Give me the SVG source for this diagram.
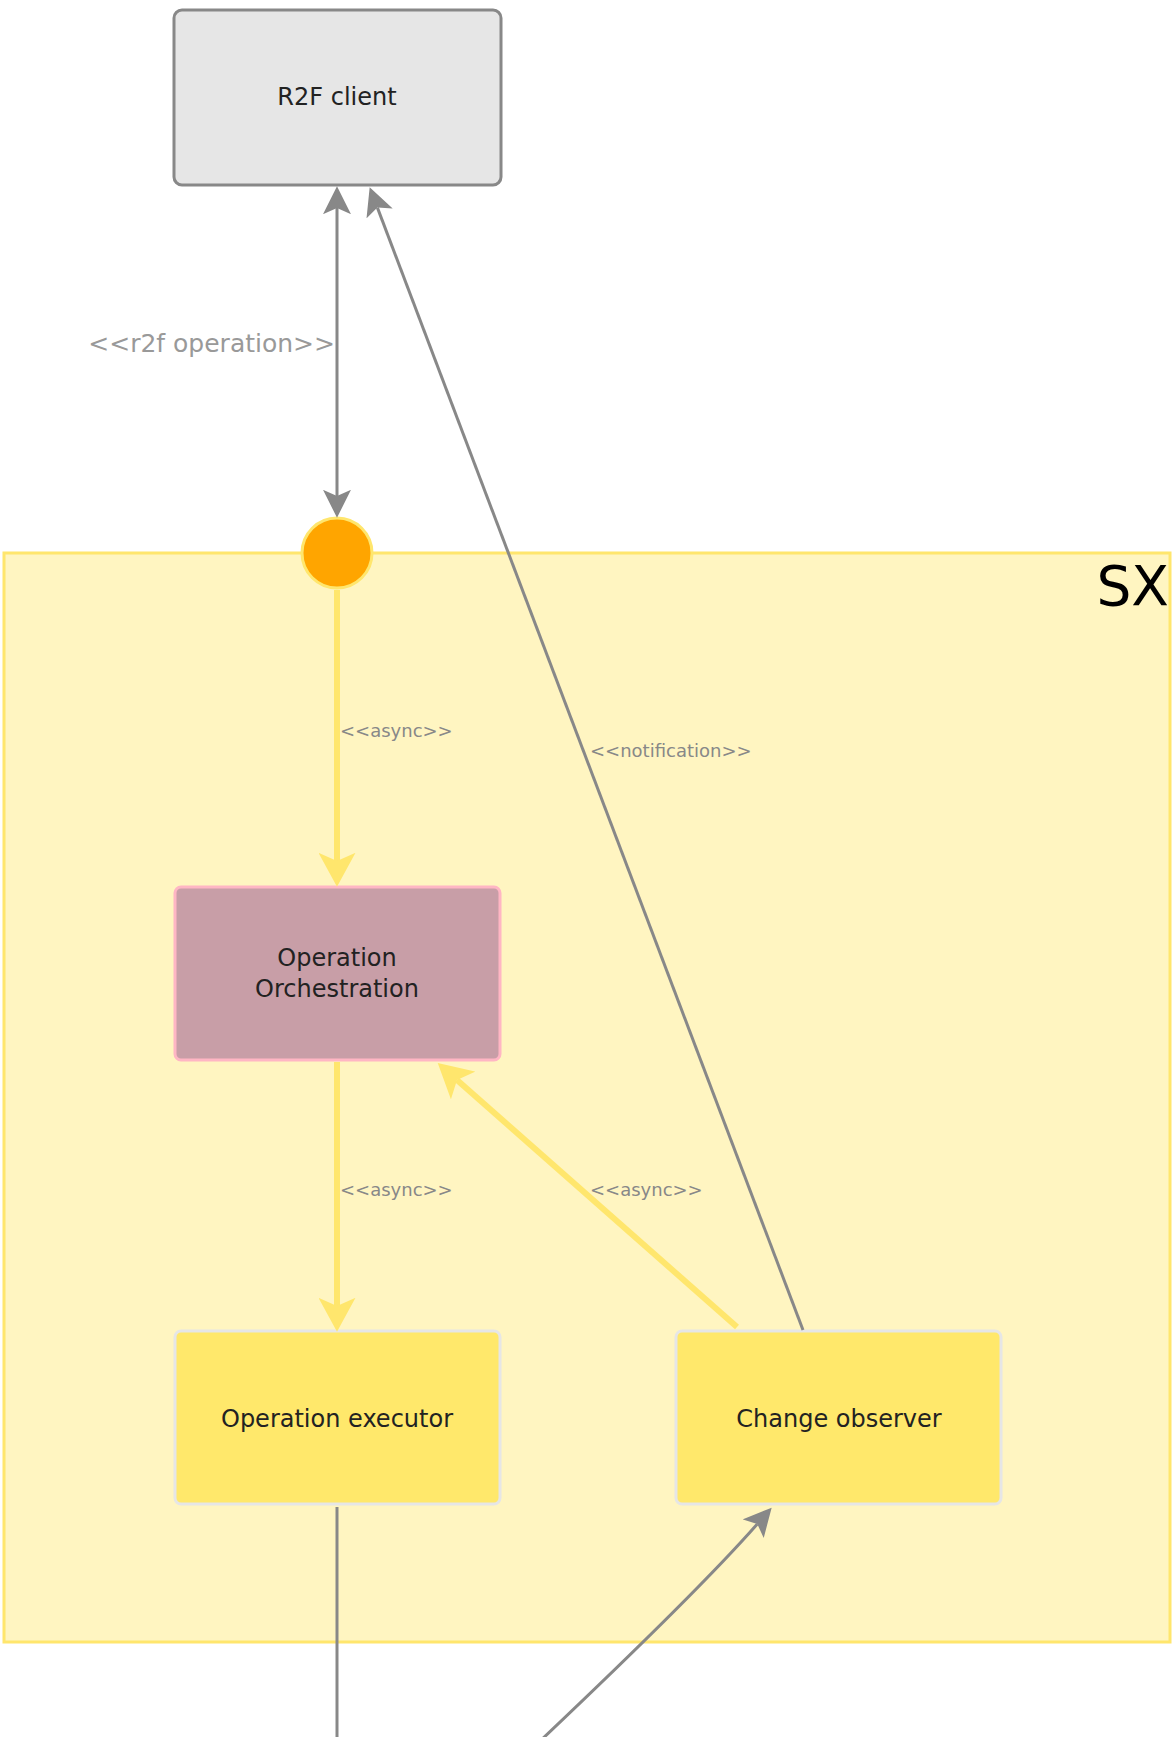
<svg xmlns="http://www.w3.org/2000/svg" width="1174" height="1737" viewBox="0 0 1174 1737">
<style>
  text { font-family: "DejaVu Sans", "Liberation Sans", sans-serif; }
  .node-text { font-size: 24px; fill: #222; text-anchor: middle; }
  .lbl { font-size: 18px; fill: #888; }
  .gray { stroke: #888; stroke-width: 3; fill: none; }
  .yel { stroke: #ffe66d; stroke-width: 6; fill: none; }
</style>
<defs>
  <marker id="ag" markerUnits="userSpaceOnUse" markerWidth="28" markerHeight="28" viewBox="0 0 27 27" refX="6" refY="13.5" orient="auto-start-reverse">
    <path d="M0,0 L27,13.5 L0,27 L6,13.5 z" fill="#888"/>
  </marker>
  <marker id="ay" markerUnits="userSpaceOnUse" markerWidth="34" markerHeight="37" viewBox="0 0 33 36" refX="8" refY="18" orient="auto">
    <path d="M0,0 L33,18 L0,36 L8,18 z" fill="#ffe66d"/>
  </marker>
</defs>

<g id="SX">
  <rect x="4" y="553" width="1166" height="1089" fill="#fff5c1" stroke="#ffe66d" stroke-width="3"/>
  <text x="1169" y="605" font-size="55" fill="#000" text-anchor="end">SX</text>
</g>

<g id="r2f-client">
  <rect x="174" y="10" width="327" height="175" rx="8" fill="#e6e6e6" stroke="#888" stroke-width="3"/>
  <text class="node-text" x="337" y="105">R2F client</text>
</g>

<g id="interface">
  <circle cx="337" cy="553" r="35" fill="#ffa500" stroke="#ffe66d" stroke-width="3"/>
</g>

<g id="operation-orchestration">
  <rect x="175" y="887" width="325" height="173" rx="6" fill="#c89ea7" stroke="#ffb6c4" stroke-width="3"/>
  <text class="node-text" x="337" y="966">Operation</text>
  <text class="node-text" x="337" y="997">Orchestration</text>
</g>

<g id="operation-executor">
  <rect x="175" y="1331" width="325" height="173" rx="6" fill="#ffe86b" stroke="#e6e6e6" stroke-width="3"/>
  <text class="node-text" x="337" y="1427">Operation executor</text>
</g>

<g id="change-observer">
  <rect x="676" y="1331" width="325" height="173" rx="6" fill="#ffe86b" stroke="#e6e6e6" stroke-width="3"/>
  <text class="node-text" x="839" y="1427">Change observer</text>
</g>

<g id="connectors">
  <path class="gray" d="M337,208 L337,496" marker-start="url(#ag)" marker-end="url(#ag)"/>
  <text x="335" y="352" font-size="25" fill="#999" text-anchor="end">&lt;&lt;r2f operation&gt;&gt;</text>

  <path class="gray" d="M803,1330 L377.4,207.6" marker-end="url(#ag)"/>
  <text class="lbl" x="590" y="757">&lt;&lt;notification&gt;&gt;</text>

  <path class="yel" d="M337,590 L337,861" marker-end="url(#ay)"/>
  <text class="lbl" x="340" y="737">&lt;&lt;async&gt;&gt;</text>

  <path class="yel" d="M337,1062 L337,1306" marker-end="url(#ay)"/>
  <text class="lbl" x="340" y="1196">&lt;&lt;async&gt;&gt;</text>

  <path class="yel" d="M737,1327 L457,1080" marker-end="url(#ay)"/>
  <text class="lbl" x="590" y="1196">&lt;&lt;async&gt;&gt;</text>

  <path class="gray" d="M337,1507 L337,1740"/>
  <path class="gray" d="M520,1760 Q695,1595 757.3,1524" marker-end="url(#ag)"/>
</g>
</svg>
